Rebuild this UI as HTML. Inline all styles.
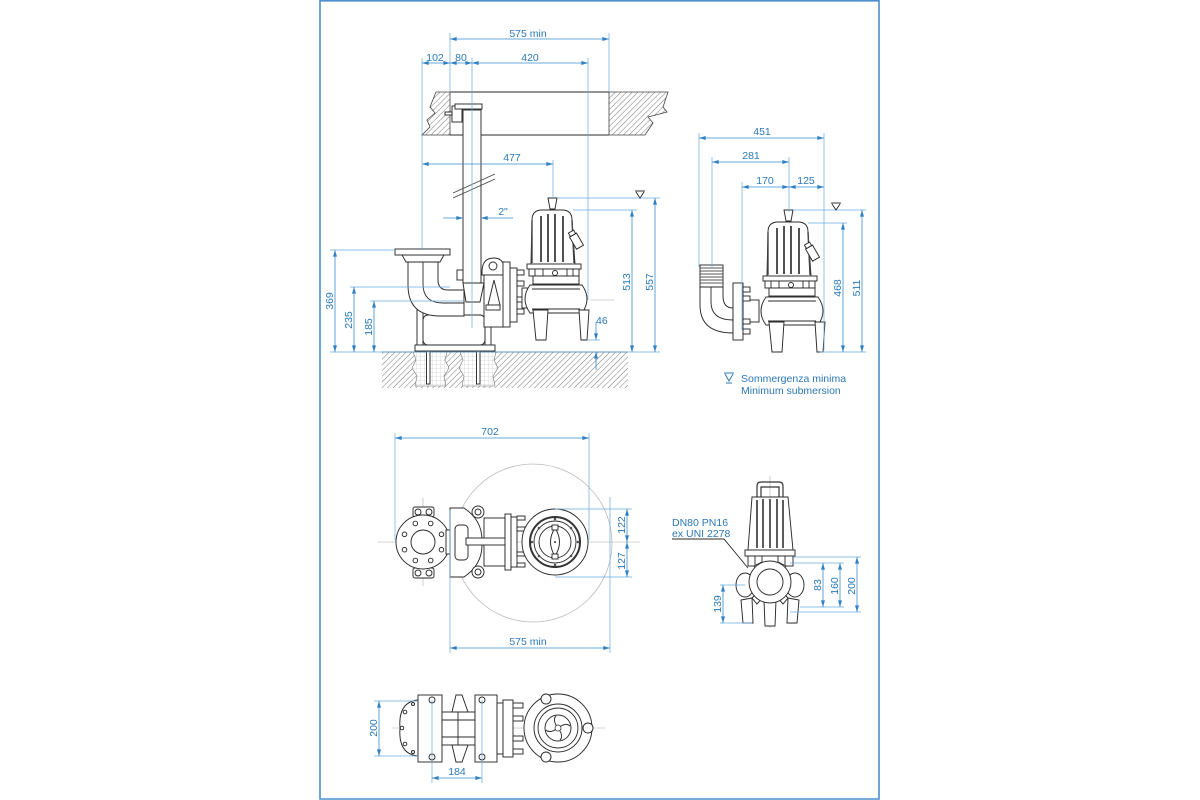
<!DOCTYPE html>
<html><head><meta charset="utf-8"><style>
html,body{margin:0;padding:0;background:#fff;}
svg{display:block;}
text{font-family:"Liberation Sans",sans-serif;font-size:10.5px;fill:#2b78b8;}
.d{stroke:#3a8cd0;stroke-width:0.8;fill:none;}
.e{stroke:#6aaae0;stroke-width:0.7;fill:none;}
.k{stroke:#2a2a2a;stroke-width:0.95;fill:#fff;}
.k2{stroke:#2a2a2a;stroke-width:0.9;fill:none;}
.c{stroke:#aaa;stroke-width:0.6;fill:none;}
</style></head><body>
<svg width="1200" height="800" viewBox="0 0 1200 800" xmlns="http://www.w3.org/2000/svg">
<defs>
<marker id="a" viewBox="0 0 10 6" refX="10" refY="3" markerWidth="7" markerHeight="4" orient="auto-start-reverse" markerUnits="userSpaceOnUse"><path d="M0,0L10,3L0,6z" fill="#2f80c4"/></marker>
<pattern id="h" width="4" height="4" patternUnits="userSpaceOnUse" patternTransform="rotate(45)"><line x1="0" y1="0" x2="0" y2="4" stroke="#555" stroke-width="0.8"/></pattern>
<pattern id="g" width="4" height="4" patternUnits="userSpaceOnUse"><path d="M0,0H4M0,0V4" stroke="#bbb" stroke-width="0.5" fill="none"/></pattern>
<g id="pump">
<path class="k" d="M15,0H24L22,11H17Z"/>
<path class="k" d="M-2,66 L-1,22 Q-1,12 9,12 L29,12 Q39,12 39,22 L42,66 Z"/>
<path d="M-1,22V65M39,22L41,65" stroke="#444" stroke-width="1.4" fill="none"/>
<path d="M8,18V64M15,16V64M22,16V64M30,18V64" stroke="#333" stroke-width="1.7" fill="none"/>
<g transform="rotate(-30 44 44)"><rect class="k" x="40" y="36" width="8" height="14"/><rect class="k" x="41" y="32" width="6" height="4"/></g>
<rect class="k" x="-6" y="66" width="54" height="5"/>
<rect class="k" x="-4" y="71" width="50" height="7"/>
<path class="k2" d="M2,71v7M10,71v7M34,71v7M40,71v7"/>
<circle class="k" cx="22" cy="75" r="2.5"/>
<rect class="k" x="0" y="78" width="46" height="8"/>
<path class="k" d="M-3,87 L49,87 Q59,101 49,115 L-3,115 Q-13,101 -3,87Z"/>
<path class="k2" d="M-1,91 L47,91 M-1,111 L47,111"/>
<path class="k" d="M0,112 L15,112 L13,142 L3,142Z"/>
<path class="k" d="M46,112 L56,112 L54,142 L48,142Z"/>
</g>
</defs>

<!-- frame -->
<path d="M320,0 V799 H879 V0" fill="none" stroke="#4a8fd0" stroke-width="1.6"/>
<line x1="320" y1="0.8" x2="879" y2="0.8" stroke="#4a8fd0" stroke-width="1.6"/>

<!-- ===== TOP LEFT VIEW ===== -->
<polygon points="436,92 450,92 450,135 422,135 430,127 427,120 435,113 430,107" fill="url(#h)" stroke="#444" stroke-width="0.8"/>
<polygon points="609,92 668,92 663,107 667,112 648,117 653,123 645,135 609,135" fill="url(#h)" stroke="#444" stroke-width="0.8"/>
<path class="k2" d="M450,92H609M450,135H609"/>
<rect x="382" y="352" width="246" height="36" fill="url(#h)"/>
<path d="M413,352 H447 L445,360 L449,368 L444,376 L446,386 H415 L417,376 L412,368 L416,360Z" fill="#fff"/>
<path d="M413,352 H447 L445,360 L449,368 L444,376 L446,386 H415 L417,376 L412,368 L416,360Z" fill="url(#g)" stroke="#777" stroke-width="0.6"/>
<path d="M460,352 H496 L494,360 L498,368 L493,376 L495,386 H462 L464,376 L459,368 L463,360Z" fill="#fff"/>
<path d="M460,352 H496 L494,360 L498,368 L493,376 L495,386 H462 L464,376 L459,368 L463,360Z" fill="url(#g)" stroke="#777" stroke-width="0.6"/>
<line x1="382" y1="352" x2="628" y2="352" stroke="#444" stroke-width="0.9"/>
<rect class="k" x="426.5" y="338" width="3.5" height="46"/>
<rect class="k" x="476.5" y="338" width="3.5" height="46"/>
<rect class="k" x="423" y="340" width="10" height="5"/>
<rect class="k" x="473" y="340" width="10" height="5"/>
<rect class="k" x="463" y="110" width="18" height="173"/>
<rect class="k" x="452" y="106" width="10" height="16"/>
<rect class="k" x="455" y="104" width="27" height="5"/>
<rect class="k" x="445" y="112" width="7" height="3"/>
<path class="k" d="M463,283 H484 L480,302 H466Z"/>
<rect class="k" x="457" y="270" width="6" height="10"/>
<path d="M453,198 L495,179 M453,193 L495,174" stroke="#444" stroke-width="0.9" fill="none"/>
<rect class="k" x="417" y="287" width="6" height="60"/>
<rect class="k" x="485" y="294" width="6" height="53"/>
<rect class="k" x="415" y="345" width="80" height="6"/>
<rect class="k" x="423" y="315" width="62" height="30" rx="5"/>
<path class="k" d="M408,258 L408,285 Q408,316 440,316 L464,316 L464,290 L448,290 Q438,290 438,280 L438,258Z"/>
<path class="k2" d="M423,258 L423,284 Q423,303 443,303 L464,303" stroke="#999"/>
<path class="k" d="M402,255 H444 L440,262 H406Z"/>
<rect class="k" x="395" y="249" width="55" height="6"/>
<path class="k" d="M482,272 Q482,258 494,258 Q502,258 504,266 L504,275 L482,275Z"/>
<circle class="k" cx="493" cy="266" r="4"/>
<rect class="k" x="484" y="275" width="20" height="52"/>
<path class="k" d="M488,305 L494,280 L500,305Z"/>
<rect class="k" x="486" y="305" width="14" height="5"/>
<rect class="k" x="503" y="262" width="7" height="65"/>
<rect class="k" x="510" y="268" width="7" height="54"/>
<g class="k"><rect x="517" y="270" width="7" height="5"/><rect x="517" y="281" width="7" height="5"/><rect x="517" y="297" width="7" height="5"/><rect x="517" y="309" width="7" height="5"/></g>
<rect class="k" x="522" y="288" width="8" height="20"/>
<use href="#pump" transform="translate(533,198)"/>
<line x1="590" y1="300" x2="614" y2="300" class="c"/>

<path class="e" d="M450,33V92M609,33V92M422,58V250M472,58V328M588,58V300M553,160V198M573,210H637M557,198H660M330,250H395M350,287H450M370,301H463M330,352H660M588,340H600"/>
<path class="d" d="M450,39H609" marker-start="url(#a)" marker-end="url(#a)"/>
<text x="528" y="37" text-anchor="middle">575 min</text>
<path class="d" d="M422,63H450" marker-start="url(#a)" marker-end="url(#a)"/>
<path class="d" d="M450,63H472" marker-start="url(#a)" marker-end="url(#a)"/>
<path class="d" d="M472,63H588" marker-start="url(#a)" marker-end="url(#a)"/>
<text x="435" y="61" text-anchor="middle">102</text>
<text x="461" y="61" text-anchor="middle">80</text>
<text x="530" y="61" text-anchor="middle">420</text>
<path class="d" d="M422,164H553" marker-start="url(#a)" marker-end="url(#a)"/>
<text x="512" y="161" text-anchor="middle">477</text>
<path class="d" d="M443,218H463" marker-end="url(#a)"/>
<path class="d" d="M481,218H513" marker-start="url(#a)"/>
<text x="503" y="215" text-anchor="middle">2"</text>
<path d="M635,191H645M636,192L640,198L644,192" stroke="#333" stroke-width="1" fill="none"/>
<path class="d" d="M632,210V352" marker-start="url(#a)" marker-end="url(#a)"/>
<text transform="translate(630,282) rotate(-90)" text-anchor="middle">513</text>
<path class="d" d="M655,198V352" marker-start="url(#a)" marker-end="url(#a)"/>
<text transform="translate(653,282) rotate(-90)" text-anchor="middle">557</text>
<path class="d" d="M596,322V340" marker-end="url(#a)"/>
<path class="d" d="M596,370V352" marker-end="url(#a)"/>
<text x="596" y="324">46</text>
<path class="d" d="M335,250V352" marker-start="url(#a)" marker-end="url(#a)"/>
<text transform="translate(333,301) rotate(-90)" text-anchor="middle">369</text>
<path class="d" d="M354,287V352" marker-start="url(#a)" marker-end="url(#a)"/>
<text transform="translate(352,320) rotate(-90)" text-anchor="middle">235</text>
<path class="d" d="M374,301V352" marker-start="url(#a)" marker-end="url(#a)"/>
<text transform="translate(372,327) rotate(-90)" text-anchor="middle">185</text>

<!-- ===== TOP RIGHT VIEW ===== -->
<rect class="k" x="700" y="265" width="23" height="22"/>
<path d="M700,268H723M700,271H723M700,274H723M700,277H723M700,280H723M700,283H723" stroke="#555" stroke-width="0.9"/>
<path class="k" d="M700,287 L700,305 Q700,333 733,333 L733,308 Q723,308 723,296 L723,287Z"/>
<path class="k2" d="M711,287 L711,302 Q711,320 733,320" stroke="#999"/>
<rect class="k" x="743" y="300" width="16" height="22"/>
<rect class="k" x="733" y="283" width="10" height="57"/>
<g class="k"><rect x="743" y="287" width="7" height="5"/><rect x="743" y="296" width="7" height="5"/><rect x="743" y="319" width="7" height="5"/><rect x="743" y="329" width="7" height="5"/></g>
<use href="#pump" transform="translate(769,210)"/>
<path class="e" d="M699,133V267M712,157V267M742,182V330M789,157V212M824,133V350M808,223H847M793,210H866M820,352H866"/>
<path class="d" d="M699,138H824" marker-start="url(#a)" marker-end="url(#a)"/>
<text x="762" y="135" text-anchor="middle">451</text>
<path class="d" d="M712,162H789" marker-start="url(#a)" marker-end="url(#a)"/>
<text x="751" y="159" text-anchor="middle">281</text>
<path class="d" d="M742,187H789" marker-start="url(#a)" marker-end="url(#a)"/>
<path class="d" d="M789,187H824" marker-start="url(#a)" marker-end="url(#a)"/>
<text x="765" y="184" text-anchor="middle">170</text>
<text x="806" y="184" text-anchor="middle">125</text>
<path d="M831,203H841M832,204L836,210L840,204" stroke="#333" stroke-width="1" fill="none"/>
<path class="d" d="M843,223V352" marker-start="url(#a)" marker-end="url(#a)"/>
<text transform="translate(841,288) rotate(-90)" text-anchor="middle">468</text>
<path class="d" d="M862,210V352" marker-start="url(#a)" marker-end="url(#a)"/>
<text transform="translate(860,288) rotate(-90)" text-anchor="middle">511</text>
<path d="M724,373H734M725,374L729,381L733,374M726,383H732" stroke="#2b78b8" stroke-width="1" fill="none"/>
<text x="741" y="382">Sommergenza minima</text>
<text x="741" y="394">Minimum submersion</text>

<!-- ===== MIDDLE LEFT PLAN ===== -->
<circle cx="533" cy="543" r="79" fill="none" stroke="#bbb" stroke-width="0.8"/>
<path class="c" d="M378,542H640M423,498V586"/>
<rect class="k" x="413" y="507" width="21" height="10" rx="2"/>
<rect class="k" x="413" y="568" width="21" height="10" rx="2"/>
<circle class="k" cx="418" cy="512" r="3"/><circle class="k" cx="429" cy="512" r="3"/>
<circle class="k" cx="418" cy="573" r="3"/><circle class="k" cx="429" cy="573" r="3"/>
<circle class="k" cx="423" cy="542" r="27"/>
<circle class="k" cx="423" cy="542" r="12"/>
<g class="k">
<circle cx="441.5" cy="549.7" r="2.3"/><circle cx="430.7" cy="560.5" r="2.3"/><circle cx="415.3" cy="560.5" r="2.3"/><circle cx="404.5" cy="549.7" r="2.3"/>
<circle cx="404.5" cy="534.3" r="2.3"/><circle cx="415.3" cy="523.5" r="2.3"/><circle cx="430.7" cy="523.5" r="2.3"/><circle cx="441.5" cy="534.3" r="2.3"/>
</g>
<rect class="k" x="446" y="530" width="5" height="24"/>
<path class="k" d="M450,508 L464,508 Q482,520 482,540 L482,545 Q482,565 464,577 L450,577Z"/>
<rect class="k" x="455" y="525" width="13" height="35" rx="4"/>
<circle class="k" cx="478" cy="512" r="6"/><circle class="k" cx="478" cy="512" r="3"/>
<circle class="k" cx="478" cy="572" r="6"/><circle class="k" cx="478" cy="572" r="3"/>
<rect class="k" x="484" y="518" width="21" height="48"/>
<rect class="k" x="466" y="538" width="40" height="7"/>
<rect class="k" x="505" y="514" width="6" height="56"/>
<rect class="k" x="511" y="517" width="6" height="50"/>
<g class="k"><rect x="517" y="516" width="8" height="4"/><rect x="517" y="527" width="8" height="4"/><rect x="517" y="552" width="8" height="4"/><rect x="517" y="563" width="8" height="4"/></g>
<circle class="k" cx="555" cy="542" r="33"/>
<circle cx="555" cy="542" r="25" fill="none" stroke="#333" stroke-width="2"/>
<circle class="k2" cx="555" cy="542" r="21"/>
<circle class="k2" cx="555" cy="542" r="16"/>
<g fill="#555"><circle cx="578" cy="542" r="1.3"/><circle cx="571" cy="556" r="1.3"/><circle cx="555" cy="565" r="1.3"/><circle cx="539" cy="556" r="1.3"/><circle cx="532" cy="542" r="1.3"/><circle cx="539" cy="528" r="1.3"/><circle cx="555" cy="519" r="1.3"/><circle cx="571" cy="528" r="1.3"/></g>
<path class="k" d="M555,528 Q564,542 555,556 Q546,542 555,528Z"/>
<rect class="k" x="552" y="525" width="6" height="5"/><rect class="k" x="552" y="554" width="6" height="5"/>
<circle cx="555" cy="542" r="1" fill="#333"/>
<path class="e" d="M395,433V540M589,433V540M450,510V653M610,497V653M555,509H632M555,577H632"/>
<path class="d" d="M395,438H589" marker-start="url(#a)" marker-end="url(#a)"/>
<text x="490" y="435" text-anchor="middle">702</text>
<path class="d" d="M450,648H610" marker-start="url(#a)" marker-end="url(#a)"/>
<text x="528" y="645" text-anchor="middle">575 min</text>
<path class="d" d="M627,509V542" marker-start="url(#a)" marker-end="url(#a)"/>
<path class="d" d="M627,542V577" marker-start="url(#a)" marker-end="url(#a)"/>
<text transform="translate(625,525) rotate(-90)" text-anchor="middle">122</text>
<text transform="translate(625,561) rotate(-90)" text-anchor="middle">127</text>

<!-- ===== MIDDLE RIGHT FRONT ===== -->
<path class="c" d="M770,476V628"/>
<path d="M757,497 L757,486 Q757,482 761,482 L779,482 Q783,482 783,486 L783,497 M761,497 L761,487 L779,487 L779,497" fill="none" stroke="#333" stroke-width="1.2"/>
<path class="k" d="M752,497 L788,497 L793,550 L748,550Z"/>
<path d="M757,500V548M763,499V548M770,499V548M777,499V548M783,500V548" stroke="#333" stroke-width="1.6"/>
<rect class="k" x="745" y="550" width="50" height="6"/>
<rect class="k" x="748" y="556" width="45" height="10"/>
<path class="k2" d="M755,556v10M762,556v10M778,556v10M785,556v10"/>
<ellipse class="k" cx="745" cy="585" rx="9" ry="12"/>
<ellipse class="k" cx="795" cy="585" rx="9" ry="12"/>
<path class="k" d="M741,600 L752,598 L753,623 L743,623Z"/>
<path class="k" d="M788,598 L799,600 L797,623 L787,623Z"/>
<path class="k" d="M764,600 L776,600 L775,626 L765,626Z"/>
<g class="k">
<path d="M754,566 L762,562 L766,570 L758,574Z"/>
<path d="M786,566 L778,562 L774,570 L782,574Z"/>
<path d="M752,598 L760,590 L764,596 L757,604Z"/>
<path d="M788,598 L780,590 L776,596 L783,604Z"/>
</g>
<circle class="k" cx="770" cy="582" r="21"/>
<circle class="k" cx="770" cy="582" r="13"/>
<path class="k2" d="M672,539 H724 L748,568" stroke="#3a8cd0"/>
<text x="672" y="526">DN80 PN16</text>
<text x="672" y="537">ex UNI 2278</text>
<path class="e" d="M793,557H861M790,563H844M800,607H844M790,612H861M720,585H745M720,623H752"/>
<path class="d" d="M823,563V607" marker-start="url(#a)" marker-end="url(#a)"/>
<path class="d" d="M840,563V607" marker-start="url(#a)" marker-end="url(#a)"/>
<path class="d" d="M857,557V612" marker-start="url(#a)" marker-end="url(#a)"/>
<text transform="translate(821,585) rotate(-90)" text-anchor="middle">83</text>
<text transform="translate(838,586) rotate(-90)" text-anchor="middle">160</text>
<text transform="translate(855,586) rotate(-90)" text-anchor="middle">200</text>
<path class="d" d="M723,585V623" marker-start="url(#a)" marker-end="url(#a)"/>
<text transform="translate(721,604) rotate(-90)" text-anchor="middle">139</text>

<!-- ===== BOTTOM PLAN ===== -->
<path class="c" d="M392,728H605"/>
<path class="k" d="M418,700 Q398,702 400,728 Q398,754 418,756Z"/>
<g class="k"><circle cx="405" cy="712" r="1.8"/><circle cx="402" cy="728" r="1.8"/><circle cx="405" cy="744" r="1.8"/><circle cx="413" cy="704" r="1.5"/><circle cx="413" cy="752" r="1.5"/></g>
<rect class="k" x="418" y="695" width="24" height="67"/>
<circle class="k" cx="432" cy="700" r="3"/><circle class="k" cx="432" cy="757" r="3"/>
<rect class="k" x="442" y="712" width="33" height="33"/>
<path class="k2" d="M442,720H475M442,737H475M458,712V745"/>
<path class="k" d="M452,712 L456,695 L462,695 L468,712Z"/>
<path class="k" d="M452,745 L456,762 L462,762 L468,745Z"/>
<rect class="k" x="475" y="695" width="22" height="67"/>
<circle class="k" cx="482" cy="700" r="3"/><circle class="k" cx="482" cy="757" r="3"/>
<rect class="k" x="497" y="703" width="6" height="51"/>
<rect class="k" x="503" y="700" width="10" height="57"/>
<g class="k"><rect x="513" y="703" width="10" height="5"/><rect x="513" y="716" width="10" height="5"/><rect x="513" y="736" width="10" height="5"/><rect x="513" y="749" width="10" height="5"/></g>
<circle class="k" cx="558" cy="728" r="34"/>
<circle class="k" cx="546" cy="699" r="5"/><circle class="k" cx="546" cy="757" r="5"/><circle class="k" cx="588" cy="728" r="5"/>
<circle class="k" cx="558" cy="728" r="24"/>
<circle class="k2" cx="558" cy="728" r="20"/>
<circle class="k" cx="558" cy="728" r="13"/>
<path d="M558,728 Q552,720 556,716 M558,728 Q566,722 570,726 M558,728 Q564,736 560,740 M558,728 Q550,734 546,730" stroke="#333" stroke-width="1" fill="none"/>
<circle cx="558" cy="728" r="3" fill="#fff" stroke="#333" stroke-width="0.8"/>
<path class="e" d="M374,701H418M374,756H418M432,700V783M482,700V783"/>
<path class="d" d="M379,701V756" marker-start="url(#a)" marker-end="url(#a)"/>
<text transform="translate(377,728) rotate(-90)" text-anchor="middle">200</text>
<path class="d" d="M432,778H482" marker-start="url(#a)" marker-end="url(#a)"/>
<text x="457" y="775" text-anchor="middle">184</text>
</svg>
</body></html>
